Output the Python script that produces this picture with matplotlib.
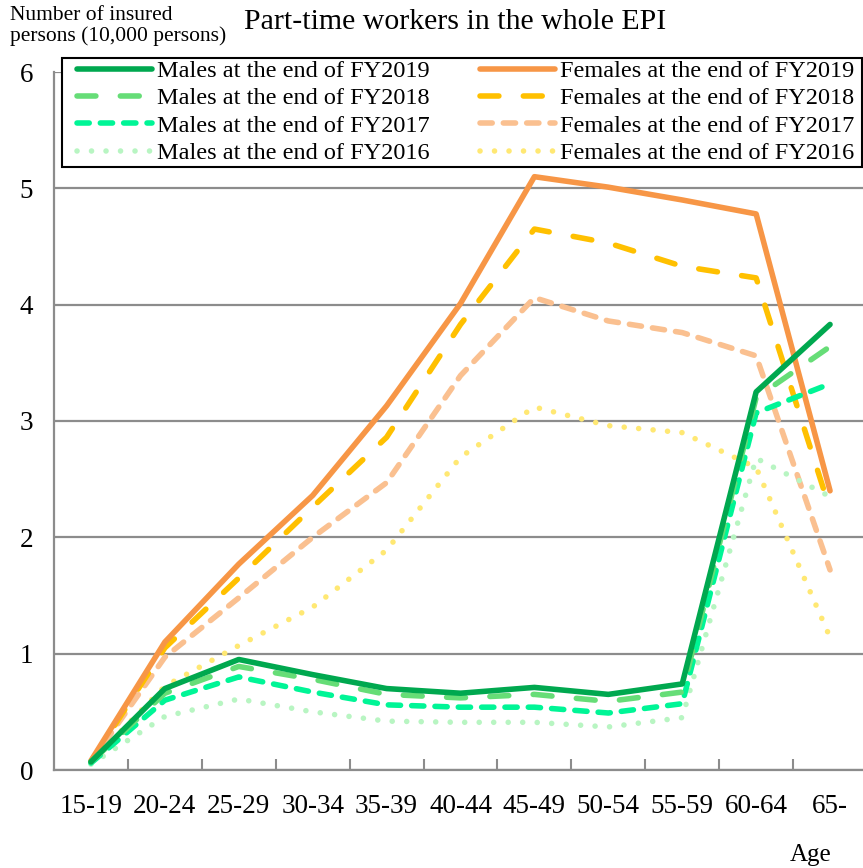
import matplotlib.pyplot as plt
from matplotlib.patches import Rectangle

plt.rcParams['font.family'] = ['Liberation Serif', 'DejaVu Serif']

# age groups on the x axis
ages = ['15-19', '20-24', '25-29', '30-34', '35-39', '40-44',
        '45-49', '50-54', '55-59', '60-64', '65-']

# insured persons, unit 10,000 persons
males_2019 = [0.07, 0.70, 0.95, 0.82, 0.70, 0.66, 0.71, 0.65, 0.74, 3.25, 3.83]
males_2018 = [0.07, 0.66, 0.89, 0.78, 0.65, 0.62, 0.65, 0.59, 0.67, 3.20, 3.64]
males_2017 = [0.06, 0.60, 0.80, 0.67, 0.56, 0.54, 0.54, 0.49, 0.57, 3.07, 3.32]
males_2016 = [0.05, 0.46, 0.61, 0.50, 0.42, 0.41, 0.41, 0.37, 0.45, 2.68, 2.35]

females_2019 = [0.08, 1.10, 1.77, 2.36, 3.13, 4.01, 5.10, 5.01, 4.90, 4.78, 2.40]
females_2018 = [0.07, 1.05, 1.65, 2.26, 2.86, 3.83, 4.65, 4.53, 4.33, 4.23, 2.24]
females_2017 = [0.07, 0.97, 1.48, 2.00, 2.47, 3.39, 4.06, 3.86, 3.76, 3.56, 1.72]
females_2016 = [0.07, 0.72, 1.07, 1.40, 1.89, 2.69, 3.12, 2.96, 2.90, 2.60, 1.14]

x = list(range(len(ages)))

fig = plt.figure(figsize=(8.63, 8.68), dpi=100)
ax = fig.add_axes([54 / 863, 98 / 868, 813 / 863, 698 / 868])

lw = 4.0
series = [
    (males_2019, 'Males at the end of FY2019', '#00A84F', None),
    (males_2018, 'Males at the end of FY2018', '#66DD77', (3.4, 4.4)),
    (males_2017, 'Males at the end of FY2017', '#00F596', (2.2, 2.0)),
    (males_2016, 'Males at the end of FY2016', '#B8F5C2', (0.01, 2.6)),
    (females_2019, 'Females at the end of FY2019', '#F79646', None),
    (females_2018, 'Females at the end of FY2018', '#FFC000', (3.4, 4.4)),
    (females_2017, 'Females at the end of FY2017', '#FAC090', (2.2, 2.0)),
    (females_2016, 'Females at the end of FY2016', '#FFE873', (0.01, 2.6)),
]
# draw faint ones first so the 2019 lines sit on top
for vals, lab, col, dash in reversed(series):
    if dash is None:
        ax.plot(x, vals, color=col, lw=lw, label=lab, solid_capstyle='round',
                solid_joinstyle='round')
    else:
        ax.plot(x, vals, color=col, lw=lw, label=lab, dashes=dash,
                dash_capstyle='round', dash_joinstyle='round')

ax.set_xlim(-0.5, 10.5)
ax.set_ylim(0, 6)
ax.set_yticks(range(7))
ax.set_xticks(x)
ax.set_xticklabels(ages)
ax.set_xticks([i + 0.5 for i in range(10)], minor=True)
ax.tick_params(axis='x', which='major', length=0, labelsize=19.5, pad=17)
ax.tick_params(axis='x', which='minor', length=8, direction='in', color='#8c8c8c', width=1.5)
ax.tick_params(axis='y', length=0, labelsize=19.5, pad=15)
ax.yaxis.grid(True, color='#8c8c8c', lw=1.6)
ax.set_axisbelow(True)
for s in ['top', 'right']:
    ax.spines[s].set_visible(False)
for s in ['left', 'bottom']:
    ax.spines[s].set_color('#8c8c8c')
    ax.spines[s].set_linewidth(1.6)

# legend frame drawn by hand, entries placed inside it
fig.patches.append(Rectangle((62 / 863, 1 - 167 / 868), 800 / 863, 109 / 868,
                             transform=fig.transFigure, facecolor='white',
                             edgecolor='black', lw=1.5, zorder=4))
handles, labels = ax.get_legend_handles_labels()
handles = handles[::-1]
labels = labels[::-1]
leg = fig.legend(handles, labels, ncol=2, loc='upper left',
                 bbox_to_anchor=(77 / 863, 1 - 60 / 868), borderaxespad=0,
                 borderpad=0, fontsize=17.5, handlelength=3.1, handletextpad=0.2,
                 labelspacing=0.22, frameon=False, columnspacing=2.05)
leg.set_zorder(5)

fig.text(10 / 863, 1 - 6 / 868, 'Number of insured\npersons (10,000 persons)',
         ha='left', va='top', fontsize=15.5, linespacing=1.1)
fig.text(455 / 863, 1 - 22 / 868, 'Part-time workers in the whole EPI',
         ha='center', va='center', fontsize=21.5)
fig.text(811 / 863, 1 - 855 / 868, 'Age', ha='center', va='center', fontsize=18)

fig.savefig('out.png', dpi=100)
